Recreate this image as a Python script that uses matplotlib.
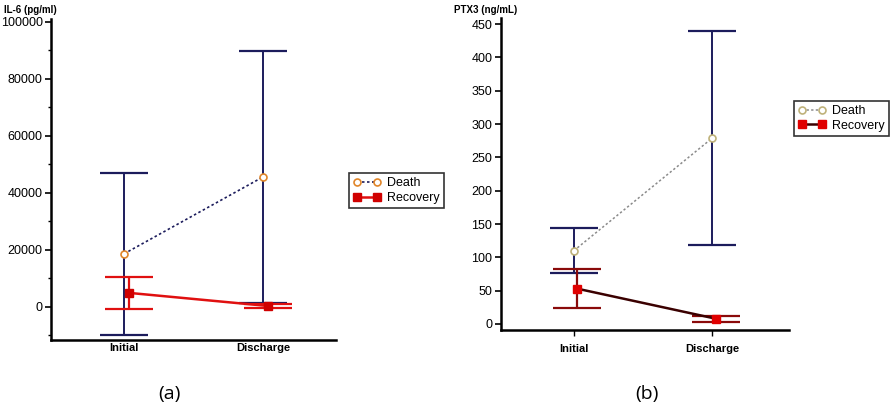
import matplotlib.pyplot as plt
import numpy as np
from matplotlib.ticker import MultipleLocator, AutoMinorLocator

plt.rcParams['font.family'] = ['Liberation Sans', 'DejaVu Sans']

timepoints = ["Initial", "Discharge"]

# IL-6 (pg/ml): mean and SD
il6_death_mean = [18600, 45600]
il6_death_sd = [28400, 44200]
il6_recovery_mean = [4900, 300]
il6_recovery_sd = [5700, 600]

# PTX3 (ng/mL): mean and SD
ptx3_death_mean = [110, 279]
ptx3_death_sd = [34, 160]
ptx3_recovery_mean = [53, 8]
ptx3_recovery_sd = [29, 4.5]

navy = "#1c1c5c"

fig = plt.figure(figsize=(8.94, 4.13), dpi=100)
ax1 = fig.add_axes([0.057, 0.177, 0.319, 0.777])
ax2 = fig.add_axes([0.560, 0.201, 0.323, 0.755])

x = np.arange(len(timepoints))


def style_axis(ax):
    for s in ["top", "right"]:
        ax.spines[s].set_visible(False)
    for s in ["left", "bottom"]:
        ax.spines[s].set_linewidth(1.8)
        ax.spines[s].set_color("black")
    ax.tick_params(axis="y", labelsize=9, width=1.2, length=4, pad=2)
    ax.tick_params(axis="y", which="minor", width=1.0, length=2.5)
    ax.set_xticks(x)
    ax.set_xticklabels(timepoints, fontsize=8, fontweight="bold")


def add_legend(ax, anchor):
    leg = ax.legend(loc="upper left", bbox_to_anchor=anchor, frameon=True,
                    fancybox=False, edgecolor="black", fontsize=9,
                    numpoints=2, handlelength=2.2, borderpad=0.35,
                    labelspacing=0.2, handletextpad=0.5, borderaxespad=0)
    leg.get_frame().set_linewidth(1.2)


# ---- panel (a) ----
ax1.errorbar(x, il6_death_mean, yerr=il6_death_sd, fmt="none", ecolor=navy,
             elinewidth=1.4, capsize=17, capthick=1.6, zorder=2)
ax1.plot(x, il6_death_mean, linestyle=(0, (1.5, 1.5)), color=navy, lw=1.2,
         marker="o", mfc="white", mec="#e0862a", ms=5, mew=1.2, zorder=4,
         label="Death")
xr = x + 0.036
ax1.errorbar(xr, il6_recovery_mean, yerr=il6_recovery_sd, fmt="none",
             ecolor="#e01010", elinewidth=1.6, capsize=17, capthick=1.6, zorder=3)
ax1.plot(xr, il6_recovery_mean, color="#e01010", lw=1.8, marker="s",
         ms=5.5, mfc="#d00000", mec="#d00000", zorder=5, label="Recovery")
ax1.set_xlim(-0.525, 1.525)
ax1.set_ylim(-11600, 101000)
ax1.yaxis.set_major_locator(MultipleLocator(20000))
ax1.yaxis.set_minor_locator(AutoMinorLocator(2))
style_axis(ax1)
ax1.tick_params(axis="x", length=0, pad=2)
add_legend(ax1, (1.045, 0.52))
fig.text(0.005, 0.975, "IL-6 (pg/ml)", fontsize=7, fontweight="bold", va="center")
fig.text(0.19, 0.045, "(a)", fontsize=14, ha="center", va="center",
         family=["Open Sans", "DejaVu Sans"])

# ---- panel (b) ----
ax2.errorbar(x, ptx3_death_mean, yerr=ptx3_death_sd, fmt="none", ecolor=navy,
             elinewidth=1.4, capsize=17, capthick=1.6, zorder=2)
ax2.plot(x, ptx3_death_mean, linestyle=(0, (1.5, 1.5)), color="#8a8a8a", lw=1.1,
         marker="o", mfc="white", mec="#bfb27a", ms=5, mew=1.2, zorder=4,
         label="Death")
xr2 = x + 0.025
ax2.errorbar(xr2, ptx3_recovery_mean, yerr=ptx3_recovery_sd, fmt="none",
             ecolor="#8a0a0a", elinewidth=1.6, capsize=17, capthick=1.6, zorder=3)
ax2.plot(xr2, ptx3_recovery_mean, color="#3a0000", lw=1.8, marker="s",
         ms=5.5, mfc="#e00000", mec="#e00000", zorder=5, label="Recovery")
ax2.set_xlim(-0.529, 1.558)
ax2.set_ylim(-9, 459)
ax2.yaxis.set_major_locator(MultipleLocator(50))
style_axis(ax2)
ax2.tick_params(axis="x", length=4, width=1.0, pad=6)
add_legend(ax2, (1.015, 0.735))
fig.text(0.508, 0.975, "PTX3 (ng/mL)", fontsize=7, fontweight="bold", va="center")
fig.text(0.724, 0.045, "(b)", fontsize=14, ha="center", va="center",
         family=["Open Sans", "DejaVu Sans"])

fig.savefig("out.png", dpi=100)
